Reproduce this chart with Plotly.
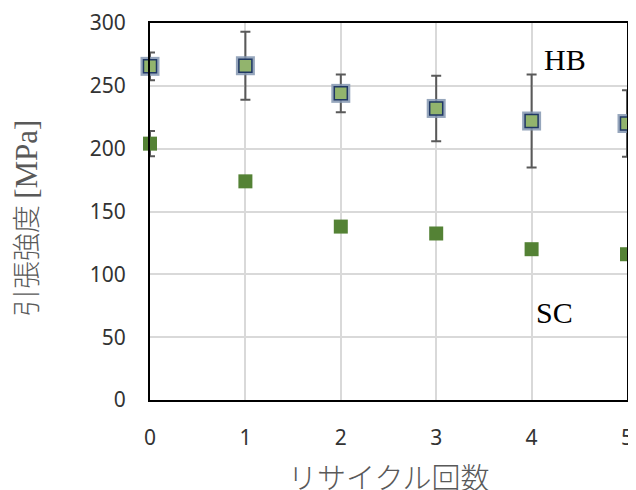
import plotly.graph_objects as go

cycles = [0, 1, 2, 3, 4, 5]
hb_values = [265.5, 266, 244, 232, 222, 220]
hb_errors = [11, 27, 15, 26, 37, 26.5]
sc_values = [204, 174, 138, 132.5, 120, 116]
sc_errors = [10, 0, 0, 0, 0, 0]
y_ticks = [0, 50, 100, 150, 200, 250, 300]
x_ticks = [0, 1, 2, 3, 4, 5]

fig = go.Figure()

err_color = "#595959"

fig.add_trace(go.Scatter(
    x=cycles, y=sc_values, mode="markers",
    marker=dict(symbol="square", size=14, color="#548235", line=dict(width=0)),
    error_y=dict(type="data", array=sc_errors, color=err_color, thickness=2, width=5, visible=True),
    cliponaxis=False, showlegend=False,
))

fig.add_trace(go.Scatter(
    x=cycles, y=hb_values, mode="markers",
    marker=dict(symbol="square", size=19, color="rgba(132,151,176,0.85)", line=dict(width=0)),
    error_y=dict(type="data", array=hb_errors, color=err_color, thickness=2, width=5, visible=True),
    cliponaxis=False, showlegend=False,
))
fig.add_trace(go.Scatter(
    x=cycles, y=hb_values, mode="markers",
    marker=dict(symbol="square", size=13, color="#92b46d", line=dict(color="#203864", width=1.5)),
    cliponaxis=False, showlegend=False,
))

fig.add_annotation(x=0.87, y=0.902, xref="paper", yref="paper", text="HB", showarrow=False,
                   xanchor="center", yanchor="middle",
                   font=dict(family="Liberation Serif", size=30, color="black"))
fig.add_annotation(x=0.849, y=0.231, xref="paper", yref="paper", text="SC", showarrow=False,
                   xanchor="center", yanchor="middle",
                   font=dict(family="Liberation Serif", size=30, color="black"))

# axis titles as annotations for precise placement
fig.add_annotation(x=0.501, y=-0.202, xref="paper", yref="paper", text="リサイクル回数",
                   showarrow=False, xanchor="center", yanchor="middle",
                   font=dict(family="Noto Sans CJK JP", size=29, color="#595959", weight=300))
fig.add_annotation(x=-0.262, y=0.48, xref="paper", yref="paper",
                   text="引張強度 <span style='font-family:Liberation Serif;font-size:31px'>[MPa]</span>",
                   textangle=-90, showarrow=False, xanchor="center", yanchor="middle",
                   font=dict(family="Noto Sans CJK JP", size=28, color="#595959", weight=300))

tick_font = dict(family="Noto Sans", size=21, color="#333333")

fig.update_xaxes(
    range=[0, 5], tickvals=x_ticks, showgrid=True, gridcolor="#d9d9d9", gridwidth=2,
    showline=True, linecolor="black", linewidth=2, mirror=True, zeroline=False,
    ticks="", ticklabelstandoff=18, automargin=False,
    tickfont=tick_font,
)
fig.update_yaxes(
    range=[0, 300], tickvals=y_ticks, showgrid=True, gridcolor="#d9d9d9", gridwidth=2,
    showline=True, linecolor="black", linewidth=2, mirror=True, zeroline=False,
    ticks="", ticklabelstandoff=18, automargin=False,
    tickfont=tick_font,
)

fig.update_layout(
    width=628, height=482,
    margin=dict(l=142, r=9, t=15, b=90),
    plot_bgcolor="white", paper_bgcolor="white",
)

fig.write_html("out.html")
